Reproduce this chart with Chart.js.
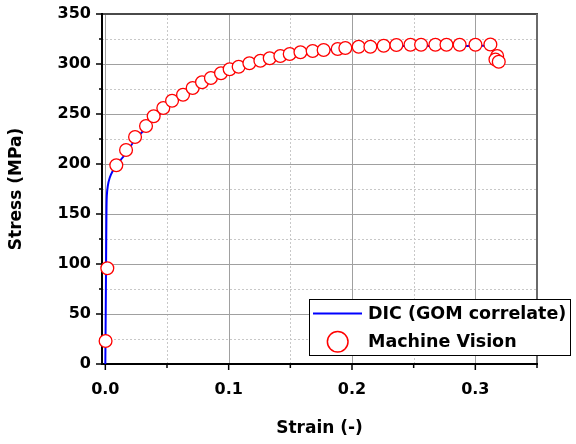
<!DOCTYPE html>
<html><head><meta charset="utf-8">
<script src="https://cdn.jsdelivr.net/npm/chart.js@4/dist/chart.umd.min.js"></script>
<style>html,body{margin:0;padding:0;background:#fff}canvas{display:block}</style>
</head><body>
<canvas id="c" width="576" height="444"></canvas>
<script>
// ---- data ----
const seriesLabels = ['DIC (GOM correlate)', 'Machine Vision'];
const dicStrain = [0, 0.0003, 0.0006, 0.0009, 0.0012, 0.002, 0.0035, 0.006, 0.009, 0.013, 0.017, 0.024, 0.033, 0.040, 0.047, 0.055, 0.063, 0.071, 0.079, 0.086, 0.094, 0.101, 0.108, 0.117, 0.126, 0.133, 0.142, 0.150, 0.158, 0.168, 0.177, 0.188, 0.195, 0.205, 0.215, 0.226, 0.236, 0.247, 0.256, 0.268, 0.277, 0.287, 0.300, 0.312, 0.3155, 0.3165];
const dicStress = [0, 50, 100, 150, 168, 178, 186, 193, 198, 205, 211, 224, 236, 245, 253, 261, 268, 274, 280, 285, 289.5, 293.5, 296.5, 300, 302.5, 304.5, 307, 309, 310.5, 312.5, 313.5, 315, 315.5, 316.5, 317, 317.5, 318, 318, 318, 318, 318, 318, 318, 317.5, 310, 304];
const mvStrain = [0.0002, 0.0016, 0.0089, 0.0168, 0.0241, 0.033, 0.0392, 0.047, 0.0541, 0.063, 0.0708, 0.0784, 0.0856, 0.0938, 0.1008, 0.1081, 0.1168, 0.1257, 0.1333, 0.1419, 0.1495, 0.1582, 0.1681, 0.177, 0.1884, 0.1946, 0.2054, 0.2149, 0.2257, 0.236, 0.2474, 0.256, 0.2676, 0.2766, 0.2873, 0.3001, 0.3122, 0.3177, 0.3163, 0.319];
const mvStress = [23, 95.7, 198.7, 214, 227, 238, 247.7, 256, 263.3, 269.3, 276, 281.7, 286, 290.7, 294.7, 297.3, 300.7, 303.3, 305.7, 308, 310, 311.7, 313, 314, 315, 316, 317.3, 317.3, 318.3, 319, 319.3, 319.3, 319.3, 319.3, 319.3, 319.3, 319.5, 308, 304.5, 302.3];
const xTicks = [0, 0.1, 0.2, 0.3];
const xMinor = [0.05, 0.15, 0.25, 0.35];
const yTicks = [0, 50, 100, 150, 200, 250, 300, 350];
const yMinor = [25, 75, 125, 175, 225, 275, 325];

Chart.defaults.font.family = '"DejaVu Sans", sans-serif';
Chart.defaults.font.weight = 'bold';
Chart.defaults.color = '#000';

function seg(ctx, x1, y1, x2, y2){ ctx.beginPath(); ctx.moveTo(x1,y1); ctx.lineTo(x2,y2); ctx.stroke(); }

const framePlugin = {
  id: 'frame',
  beforeDatasetsDraw(chart){
    const {ctx, chartArea:a, scales:{x, y}} = chart;
    ctx.save();
    ctx.lineWidth = 1;
    ctx.strokeStyle = '#c8c8c8'; ctx.setLineDash([2,2]);
    yMinor.forEach(v => { const p = Math.round(y.getPixelForValue(v)) + 0.5; seg(ctx, a.left, p, a.right, p); });
    xMinor.filter(v => v < 0.349).forEach(v => { const p = Math.round(x.getPixelForValue(v)) + 0.5; seg(ctx, p, a.top, p, a.bottom); });
    ctx.setLineDash([]); ctx.strokeStyle = '#a0a0a0';
    yTicks.filter(v => v > 0 && v < 350).forEach(v => { const p = Math.round(y.getPixelForValue(v)) + 0.5; seg(ctx, a.left, p, a.right, p); });
    xTicks.forEach(v => { const p = Math.round(x.getPixelForValue(v)) + 0.5; seg(ctx, p, a.top, p, a.bottom); });
    ctx.lineWidth = 2; ctx.strokeStyle = '#4a4a4a';
    seg(ctx, a.left, a.top, a.right + 1, a.top);
    ctx.strokeStyle = '#6a6a6a';
    seg(ctx, a.right, a.top, a.right, a.bottom);
    ctx.strokeStyle = '#000';
    seg(ctx, a.left, a.top - 1, a.left, a.bottom + 1);
    seg(ctx, a.left - 1, a.bottom, a.right + 1, a.bottom);
    ctx.lineWidth = 1.5;
    yTicks.forEach(v => { const p = y.getPixelForValue(v); seg(ctx, a.left - 6, p, a.left, p); });
    yMinor.forEach(v => { const p = y.getPixelForValue(v); seg(ctx, a.left - 3, p, a.left, p); });
    xTicks.forEach(v => { const p = x.getPixelForValue(v); seg(ctx, p, a.bottom, p, a.bottom + 6); });
    xMinor.forEach(v => { const p = x.getPixelForValue(v); seg(ctx, p, a.bottom, p, a.bottom + 4); });
    ctx.restore();
  }
};

const legendPlugin = {
  id: 'boxLegend',
  afterDraw(chart){
    const ctx = chart.ctx;
    const L = 309.5, T = 299.5, R = 570.5, B = 355.5;
    ctx.save();
    ctx.fillStyle = '#fff'; ctx.fillRect(L, T, R - L, B - T);
    ctx.strokeStyle = '#000'; ctx.lineWidth = 1; ctx.strokeRect(L, T, R - L, B - T);
    const ds0 = chart.data.datasets[1], ds1 = chart.data.datasets[0];
    ctx.strokeStyle = ds0.borderColor; ctx.lineWidth = 2;
    seg(ctx, 313, 313.5, 362, 313.5);
    ctx.strokeStyle = ds1.borderColor; ctx.lineWidth = 1.5;
    ctx.beginPath(); ctx.arc(337.7, 341.7, 10.3, 0, Math.PI * 2); ctx.fillStyle = '#fff'; ctx.fill(); ctx.stroke();
    ctx.fillStyle = '#000'; ctx.font = 'bold 17.5px "DejaVu Sans"'; ctx.textBaseline = 'middle';
    ctx.fillText(ds0.label, 368, 314);
    ctx.fillText(ds1.label, 368, 342);
    ctx.restore();
  }
};

new Chart(document.getElementById('c'), {
  type: 'scatter',
  data: {
    datasets: [
      {
        label: seriesLabels[1],
        data: mvStrain.map((v, i) => ({x: v, y: mvStress[i]})),
        showLine: false,
        pointRadius: 6.4,
        pointBorderWidth: 1.3,
        borderColor: '#ff0000',
        backgroundColor: '#ffffff',
        pointBackgroundColor: '#ffffff',
        pointBorderColor: '#ff0000',
        clip: false,
        order: 0
      },
      {
        label: seriesLabels[0],
        data: dicStrain.map((v, i) => ({x: v, y: dicStress[i]})),
        showLine: true,
        pointRadius: 0,
        borderColor: '#0000ff',
        borderWidth: 2,
        tension: 0.3,
        order: 1
      }
    ]
  },
  options: {
    responsive: false,
    animation: false,
    devicePixelRatio: 1,
    layout: { padding: { top: 14, right: 39, left: 0, bottom: 0 } },
    plugins: { legend: { display: false }, tooltip: { enabled: false } },
    scales: {
      x: {
        type: 'linear', min: -0.0027, max: 0.35,
        grid: { display: false, drawTicks: false }, border: { display: false },
        afterBuildTicks: s => { s.ticks = xTicks.map(v => ({value: v})); },
        afterFit: s => { s.height = 80; s.paddingLeft = 0; s.paddingRight = 0; },
        ticks: { padding: 16, font: { size: 16, weight: 'bold' }, callback: v => v.toFixed(1) },
        title: { display: true, text: 'Strain (-)', font: { size: 17, weight: 'bold' }, padding: { top: 0, bottom: 5 } }
      },
      y: {
        type: 'linear', min: 0, max: 350,
        grid: { display: false, drawTicks: false }, border: { display: false },
        afterBuildTicks: s => { s.ticks = yTicks.map(v => ({value: v})); },
        afterFit: s => { s.width = 102; s.paddingTop = 0; s.paddingBottom = 0; },
        ticks: { padding: 11, font: { size: 16, weight: 'bold' } },
        title: { display: true, text: 'Stress (MPa)', font: { size: 17, weight: 'bold' }, padding: { top: 6, bottom: 0 } }
      }
    }
  },
  plugins: [framePlugin, legendPlugin]
});
</script>
</body></html>
